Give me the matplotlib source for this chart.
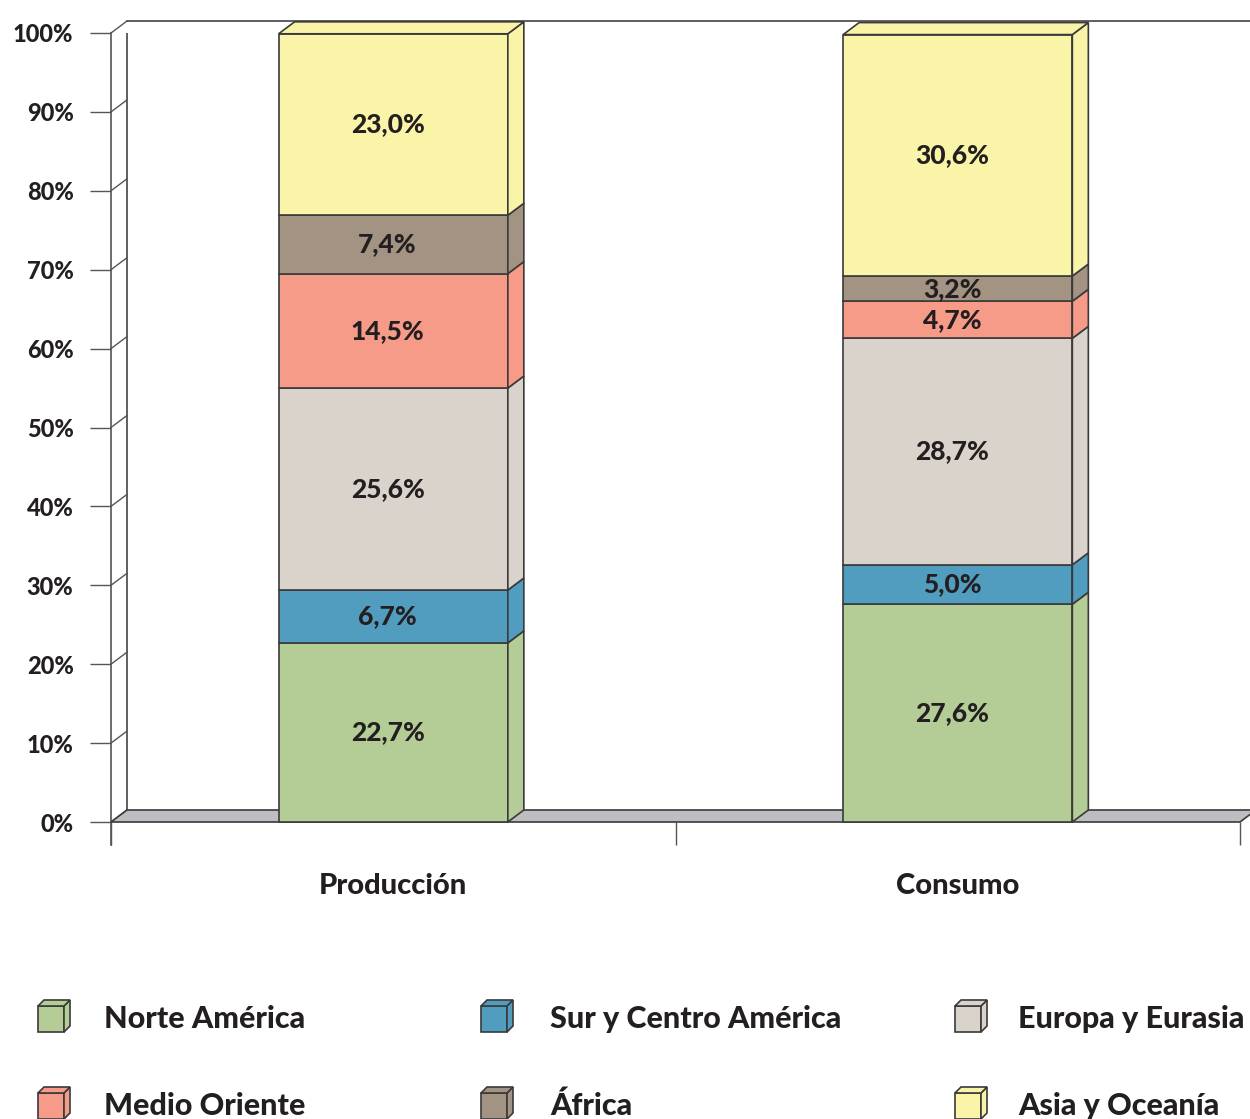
import matplotlib.pyplot as plt
from matplotlib.patches import Polygon, Rectangle

# datos
categorias = ['Producción', 'Consumo']
regiones = ['Norte América', 'Sur y Centro América', 'Europa y Eurasia',
            'Medio Oriente', 'África', 'Asia y Oceanía']
produccion = [22.7, 6.7, 25.6, 14.5, 7.4, 23.0]
consumo = [27.6, 5.0, 28.7, 4.7, 3.2, 30.6]
colores = ['#b4cd96', '#519dc0', '#dad3cc', '#f69b87', '#a39382', '#faf4a9']

plt.rcParams['font.family'] = ['Lato', 'DejaVu Sans']
plt.rcParams['font.weight'] = 'black'
texto = '#231f20'
borde = '#3a3a3a'
peso = 'black'

W, H = 1250, 1119
fig = plt.figure(figsize=(W / 100, H / 100), dpi=100)

# area del grafico en pixeles
px0, px1 = 111, 1240
py0, py1 = 822, 33
ax = fig.add_axes([px0 / W, 1 - py0 / H, (px1 - px0) / W, (py0 - py1) / H])
ax.set_xlim(0, 2)
ax.set_ylim(0, 100)
ax.patch.set_visible(False)

# profundidad del efecto 3D en unidades de datos
dx = 16 / ((px1 - px0) / 2)
dy = 12 / ((py0 - py1) / 100)

# pared del fondo
ax.plot([dx, dx], [dy, 100 + dy], color='#444444', lw=1.2, zorder=1)
ax.plot([dx, 2 + 2 * dx], [100 + dy, 100 + dy], color='#444444', lw=1.2,
        zorder=1, clip_on=False)
for t in range(0, 101, 10):
    ax.plot([0, dx], [t, t + dy], color='#555555', lw=1, zorder=1,
            clip_on=False)
ax.plot([0, 0], [-2.9, 100], color='#555555', lw=1.2, zorder=1,
        clip_on=False)

# piso
piso = Polygon([(0, 0), (2, 0), (2 + dx, dy), (dx, dy)], closed=True,
               facecolor='#bdbec2', edgecolor=borde, lw=1.2, zorder=2,
               clip_on=False)
ax.add_patch(piso)

# barras apiladas
ancho = 0.406
for i, valores in enumerate([produccion, consumo]):
    xc = i + 0.5
    xa, xb = xc - ancho / 2, xc + ancho / 2
    base = 0
    for j, v in enumerate(valores):
        top = base + v
        ax.add_patch(Rectangle((xa, base), ancho, v, facecolor=colores[j],
                               edgecolor=borde, lw=1.2, zorder=3,
                               clip_on=False))
        ax.add_patch(Polygon([(xb, base), (xb + dx, base + dy),
                              (xb + dx, top + dy), (xb, top)], closed=True,
                             facecolor=colores[j], edgecolor=borde, lw=1.2,
                             zorder=3, clip_on=False))
        if j == len(valores) - 1:
            ax.add_patch(Polygon([(xa, top), (xa + dx, top + dy),
                                  (xb + dx, top + dy), (xb, top)],
                                 closed=True, facecolor=colores[j],
                                 edgecolor=borde, lw=1.2, zorder=3,
                                 clip_on=False))
        etiqueta = f'{v:.1f}%'.replace('.', ',')
        ax.text(xc - 0.01, base + v / 2, etiqueta, ha='center', va='center',
                fontsize=19, fontweight=peso, color=texto, zorder=4)
        base = top

# ejes
for s in ['top', 'right', 'bottom', 'left']:
    ax.spines[s].set_visible(False)
ax.set_yticks(range(0, 101, 10))
ax.set_yticklabels([f'{t}%' for t in range(0, 101, 10)], fontweight=peso)
ax.tick_params(axis='y', length=15, width=1, color='#555555', pad=12,
               labelsize=17, labelcolor=texto)
ax.set_xticks([0, 1, 2])
ax.set_xticklabels([])
ax.tick_params(axis='x', which='major', length=16.5, width=1,
               color='#555555')
ax.set_xticks([0.5, 1.5], minor=True)
ax.set_xticklabels(categorias, minor=True, fontweight=peso)
ax.tick_params(axis='x', which='minor', length=0, pad=37, labelsize=21,
               labelcolor=texto)

# leyenda con cubos
lg = fig.add_axes([0, 0, 1, 1])
lg.set_xlim(0, W)
lg.set_ylim(H, 0)
lg.axis('off')
col_icono = [38, 481, 955]
col_texto = [104, 550, 1018]
fila_y = [1019, 1106]
for i, nombre in enumerate(regiones):
    fila, col = i // 3, i % 3
    x, yb = col_icono[col], fila_y[fila] + 13
    lado, d = 26, 6
    lg.add_patch(Rectangle((x, yb - lado), lado, lado, facecolor=colores[i],
                           edgecolor=borde, lw=1.2))
    lg.add_patch(Polygon([(x + lado, yb), (x + lado + d, yb - d),
                          (x + lado + d, yb - lado - d), (x + lado, yb - lado)],
                         closed=True, facecolor=colores[i], edgecolor=borde,
                         lw=1.2))
    lg.add_patch(Polygon([(x, yb - lado), (x + d, yb - lado - d),
                          (x + lado + d, yb - lado - d), (x + lado, yb - lado)],
                         closed=True, facecolor=colores[i], edgecolor=borde,
                         lw=1.2))
    lg.text(col_texto[col], fila_y[fila], nombre, ha='left', va='center',
            fontsize=22, fontweight=peso, color=texto)

fig.savefig('out.png', dpi=100)
